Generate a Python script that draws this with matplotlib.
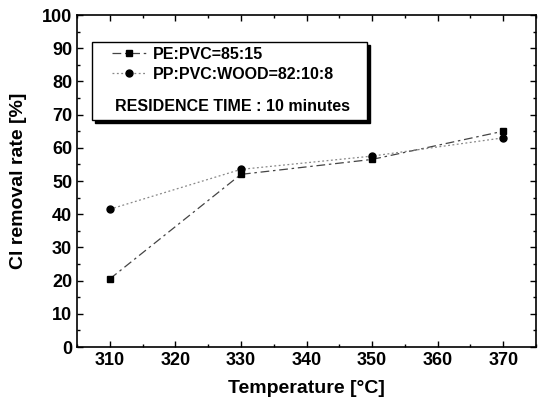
import matplotlib.pyplot as plt
from matplotlib.patches import Rectangle
from matplotlib.lines import Line2D

temps = [310, 330, 350, 370]
pe_pvc = [20.5, 52.0, 56.5, 65.0]
pp_pvc_wood = [41.5, 53.5, 57.5, 63.0]
labels = ['PE:PVC=85:15', 'PP:PVC:WOOD=82:10:8']
note = 'RESIDENCE TIME : 10 minutes'

plt.rcParams['font.family'] = ['Liberation Sans', 'DejaVu Sans']
plt.rcParams['font.weight'] = 'bold'

fig = plt.figure(figsize=(5.39, 4.03), dpi=100)
ax = fig.add_axes([77 / 539, 1 - 347 / 403, (536 - 77) / 539, (347 - 15) / 403])

pe_style = dict(color='#444444', ls=(0, (7, 3, 2, 3)), lw=0.9,
                marker='s', ms=4.5, mfc='black', mec='black')
pp_style = dict(color='#888888', ls=(0, (1.5, 2)), lw=0.9,
                marker='o', ms=5, mfc='black', mec='black')

ax.plot(temps, pe_pvc, **pe_style)
ax.plot(temps, pp_pvc_wood, **pp_style)

ax.set_xlim(305, 375)
ax.set_ylim(0, 100)
ax.set_xticks(range(310, 371, 10))
ax.set_xticks(range(305, 376, 5), minor=True)
ax.set_yticks(range(0, 101, 10))
ax.set_yticks(range(0, 101, 5), minor=True)
ax.tick_params(which='both', direction='in', top=True, right=True, labelsize=13)
ax.tick_params(which='major', length=4, width=1)
ax.tick_params(which='minor', length=2, width=1)
for s in ax.spines.values():
    s.set_linewidth(1.2)

ax.set_xlabel('Temperature [\u00b0C]', fontsize=14, fontweight='bold')
ax.set_ylabel('Cl removal rate [%]', fontsize=14, fontweight='bold')
ax.xaxis.set_label_coords(0.5, -0.1)
ax.yaxis.set_label_coords(-0.108, 0.5)

# legend box with shadow
x0, y0, x1, y1 = 307.3, 68.4, 349.2, 91.9
ax.add_patch(Rectangle((x0 + 0.45, y0 - 0.9), x1 - x0, y1 - y0, facecolor='black',
                       edgecolor='black', zorder=4))
ax.add_patch(Rectangle((x0, y0), x1 - x0, y1 - y0, facecolor='white',
                       edgecolor='black', lw=1, zorder=5))
handles = [Line2D([], [], **pe_style), Line2D([], [], **pp_style)]
leg = ax.legend(handles, labels, loc='upper left', bbox_to_anchor=(0.062, 0.923),
                frameon=False, fontsize=11.5, handlelength=2.2, handletextpad=0.35,
                labelspacing=0.3, borderaxespad=0)
leg.set_zorder(6)
ax.text(310.8, 72.3, note, fontsize=11.5, fontweight='bold', va='center', zorder=6)

fig.savefig('out.png', dpi=100)
